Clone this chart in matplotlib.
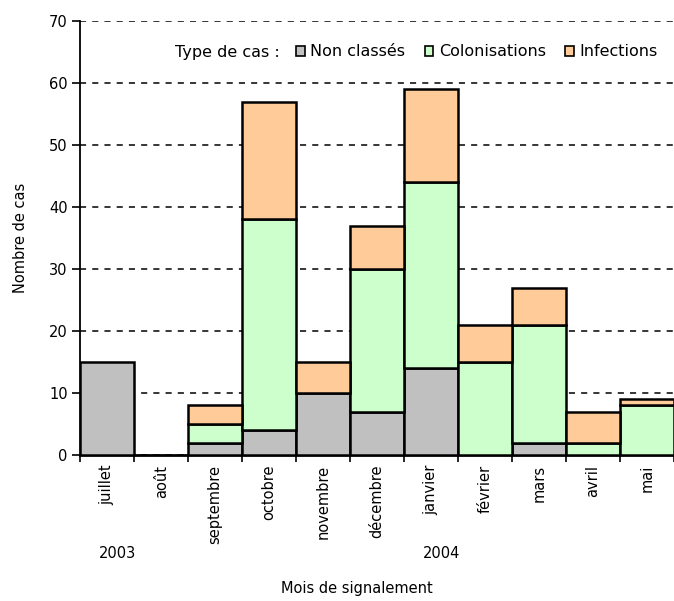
import numpy as np
import matplotlib.pyplot as plt
from matplotlib.patches import Patch

plt.rcParams['font.family'] = ['DejaVu Sans']

mois = ['juillet', 'août', 'septembre', 'octobre', 'novembre', 'décembre',
        'janvier', 'février', 'mars', 'avril', 'mai']
non_classes = [15, 0, 2, 4, 10, 7, 14, 0, 2, 0, 0]
colonisations = [0, 0, 3, 34, 0, 23, 30, 15, 19, 2, 8]
infections = [0, 0, 3, 19, 5, 7, 15, 6, 6, 5, 1]
annees = ['2003', '2004']
annee_pos = [0, 6]

c_grey = '#C0C0C0'
c_green = '#CCFFCC'
c_orange = '#FFCC99'

fig = plt.figure(figsize=(6.74, 6.01), dpi=100)
ax = fig.add_axes([0.119, 0.243, 0.881, 0.722])

x = np.arange(len(mois))
series = [(np.array(non_classes), c_grey),
          (np.array(colonisations), c_green),
          (np.array(infections), c_orange)]

# stack the segments, skipping empty ones so no stray edges get drawn
bottom = np.zeros(len(mois))
for vals, col in series:
    m = vals > 0
    ax.bar(x[m], vals[m], bottom=bottom[m], width=1.0, color=col,
           edgecolor='black', linewidth=1.8, zorder=3)
    bottom = bottom + vals

ax.set_xlim(-0.5, len(mois) - 0.5)
ax.set_ylim(0, 70)
ax.set_yticks(range(0, 71, 10))
ax.yaxis.grid(True, color='black', linestyle=(0, (4, 4)), linewidth=1.1, zorder=0)
ax.set_axisbelow(True)

for s in ['top', 'right']:
    ax.spines[s].set_visible(False)
ax.spines['left'].set_linewidth(1.3)
ax.spines['bottom'].set_linewidth(2)

ax.set_xticks(x)
ax.set_xticklabels(mois, rotation=90, fontsize=10.5)
ax.tick_params(axis='x', which='major', length=0, pad=7)
ax.set_xticks(np.arange(-0.5, len(mois), 1), minor=True)
ax.tick_params(axis='x', which='minor', length=5, width=1.2, direction='out')
ax.tick_params(axis='y', length=6, width=1.2, direction='out', labelsize=10.5, pad=3)

ax.set_ylabel('Nombre de cas', fontsize=10.5, labelpad=15)

for lab, p in zip(annees, annee_pos):
    ax.text(p + 0.2, -0.227, lab, transform=ax.get_xaxis_transform(), ha='center',
            va='center', fontsize=10.5)
fig.text(0.53, 0.0216, 'Mois de signalement', ha='center', va='center', fontsize=10.5)

handles = [Patch(facecolor=c_grey, edgecolor='black', linewidth=1.2),
           Patch(facecolor=c_green, edgecolor='black', linewidth=1.2),
           Patch(facecolor=c_orange, edgecolor='black', linewidth=1.2)]
fig.text(280 / 674, 1 - 52 / 601, 'Type de cas :', ha='right', va='center', fontsize=11.5)
fig.legend(handles, ['Non classés', 'Colonisations', 'Infections'],
           loc='center left', bbox_to_anchor=(296 / 674, 1 - 52 / 601), ncol=3,
           frameon=False, fontsize=11.5, handlelength=0.55, handleheight=0.55,
           handletextpad=0.35, columnspacing=1.2, borderpad=0, borderaxespad=0)

fig.savefig('out.png', dpi=100)
